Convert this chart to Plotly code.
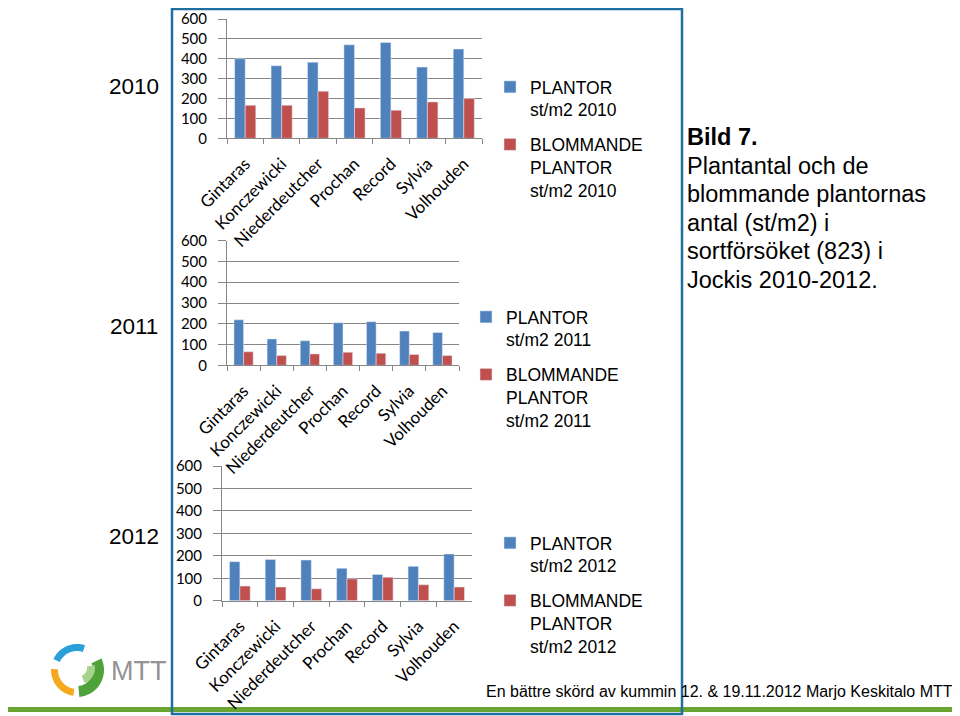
import math
import plotly.graph_objects as go

# ---------------- data ----------------
categories = ["Gintaras", "Konczewicki", "Niederdeutcher", "Prochan", "Record", "Sylvia", "Volhouden"]
years = ["2010", "2011", "2012"]
plantor_2010 = [400, 365, 383, 470, 482, 358, 449]
blommande_2010 = [166, 166, 237, 153, 141, 183, 200]
plantor_2011 = [219, 127, 118, 205, 210, 165, 158]
blommande_2011 = [65, 47, 55, 63, 58, 52, 47]
plantor_2012 = [174, 184, 181, 144, 117, 153, 208]
blommande_2012 = [65, 61, 53, 97, 105, 71, 61]
y_ticks = [0, 100, 200, 300, 400, 500, 600]
caption_lines = ["<b>Bild 7.</b>", "Plantantal och de", "blommande plantornas",
                 "antal (st/m2) i", "sortförsöket (823) i", "Jockis 2010-2012."]
footer_text = "En bättre skörd av kummin 12. & 19.11.2012 Marjo Keskitalo MTT"

# the page places the figure 8px from the window's top-left corner
OFF = 8
W, H = 960 - OFF, 716 - OFF
BLUE = "#4F81BD"
RED = "#C0504D"
GRID = "#868686"
TICKFONT = "Lato, Carlito, sans-serif"
TEXTFONT = "Liberation Sans, Arial, sans-serif"


def px(x):
    return (x - OFF) / W


def py(y):
    return 1 - (y - OFF) / H


# panel geometry (window pixels): x-range of plot, y of value 0, y of value 600, legend pos
panels = [
    dict(year="2010", p=plantor_2010, b=blommande_2010, x=(227, 482), y0=138.3, y6=19, lx=490, ly=69),
    dict(year="2011", p=plantor_2011, b=blommande_2011, x=(227, 459), y0=365.3, y6=240.7, lx=466, ly=299),
    dict(year="2012", p=plantor_2012, b=blommande_2012, x=(222, 472), y0=600.7, y6=466, lx=490, ly=525),
]

fig = go.Figure()
layout = {}
for i, pn in enumerate(panels):
    k = "" if i == 0 else str(i + 1)
    leg = "legend" + k
    fig.add_trace(go.Bar(
        x=categories, y=pn["p"], name="PLANTOR<br>st/m2 " + pn["year"],
        marker_color=BLUE, xaxis="x" + k, yaxis="y" + k, legend=leg,
        legendgroup="p" + pn["year"],
    ))
    fig.add_trace(go.Bar(
        x=categories, y=pn["b"], name="BLOMMANDE<br>PLANTOR<br>st/m2 " + pn["year"],
        marker_color=RED, xaxis="x" + k, yaxis="y" + k, legend=leg,
        legendgroup="b" + pn["year"],
    ))
    layout["xaxis" + k] = dict(
        domain=[px(pn["x"][0]), px(pn["x"][1])], anchor="y" + k,
        range=[-0.5, 6.5], showline=True, linecolor=GRID, linewidth=1,
        ticks="outside", tickson="boundaries", ticklen=5, tickcolor=GRID,
        tickangle=-45, tickfont=dict(family=TICKFONT, size=17, color="black"),
        ticklabelstandoff=8,
        showgrid=False, zeroline=False, fixedrange=True, automargin=False,
    )
    layout["yaxis" + k] = dict(
        domain=[py(pn["y0"]), py(pn["y6"])], anchor="x" + k,
        range=[0, 600], tickvals=y_ticks, showgrid=True, gridcolor=GRID, gridwidth=1,
        showline=True, linecolor=GRID, linewidth=1, ticks="outside", ticklen=8,
        tickcolor=GRID, tickfont=dict(family=TICKFONT, size=15, color="black"),
        ticklabelstandoff=8, zeroline=False, fixedrange=True, automargin=False,
    )
    layout[leg] = dict(
        x=px(pn["lx"]), y=py(pn["ly"]), xanchor="left", yanchor="top",
        font=dict(family=TEXTFONT, size=17.5, color="black"), valign="top",
        bgcolor="rgba(0,0,0,0)", tracegroupgap=9, traceorder="grouped",
    )


def sector(cx, cy, r_out, r_in, a0, a1, n=40):
    pts = []
    for j in range(n + 1):
        a = math.radians(a0 + (a1 - a0) * j / n)
        pts.append((cx + r_out * math.cos(a), cy - r_out * math.sin(a)))
    for j in range(n + 1):
        a = math.radians(a1 - (a1 - a0) * j / n)
        pts.append((cx + r_in * math.cos(a), cy - r_in * math.sin(a)))
    return "M " + " L ".join(f"{px(x):.5f},{py(y):.5f}" for x, y in pts) + " Z"


shapes = [
    # green bottom bar
    dict(type="rect", xref="paper", yref="paper", x0=px(8), x1=px(955), y0=py(712), y1=py(707),
         fillcolor="#6AA532", line=dict(width=0), layer="below"),
    # logo arcs
    dict(type="path", xref="paper", yref="paper", path=sector(77, 670, 26, 19, 72, 155),
         fillcolor="#2A9FD8", line=dict(width=0)),
    dict(type="path", xref="paper", yref="paper", path=sector(77, 670, 26, 19, 178, 262),
         fillcolor="#F5AA1E", line=dict(width=0)),
    dict(type="path", xref="paper", yref="paper", path=sector(77, 670, 27, 16, 275, 385),
         fillcolor="#4FA23A", line=dict(width=0)),
    dict(type="path", xref="paper", yref="paper", path=sector(79, 668, 16, 8, 290, 370),
         fillcolor="#A9D18E", line=dict(width=0)),
    # blue frame
    dict(type="rect", xref="paper", yref="paper", x0=px(172), x1=px(682), y0=py(714), y1=py(9),
         line=dict(color="#1F6FA0", width=2.5), fillcolor="rgba(0,0,0,0)", layer="above"),
]

annotations = []
for yr, yc in zip(years, [86, 326, 536]):
    annotations.append(dict(text=yr, x=px(134), y=py(yc), xref="paper", yref="paper",
                            xanchor="center", yanchor="middle", showarrow=False,
                            font=dict(family=TEXTFONT, size=22.5, color="black")))
for j, line in enumerate(caption_lines):
    annotations.append(dict(
        text=line, x=px(685), y=py(137 + j * 28.6), xref="paper", yref="paper",
        xanchor="left", yanchor="middle", align="left", showarrow=False,
        font=dict(family=TEXTFONT, size=23.5, color="black")))
annotations.append(dict(
    text=footer_text,
    x=px(484), y=py(691), xref="paper", yref="paper", xanchor="left", yanchor="middle",
    showarrow=False, font=dict(family=TEXTFONT, size=16, color="black")))
annotations.append(dict(
    text="MTT", x=px(109), y=py(671), xref="paper", yref="paper", xanchor="left",
    yanchor="middle", showarrow=False, font=dict(family=TEXTFONT, size=27, color="#939393")))

fig.update_layout(
    width=W, height=H, margin=dict(l=0, r=0, t=0, b=0, pad=0, autoexpand=False),
    paper_bgcolor="white", plot_bgcolor="rgba(0,0,0,0)",
    barmode="group", bargap=0.42, bargroupgap=0.0,
    shapes=shapes, annotations=annotations, **layout,
)

fig.write_html("out.html")
